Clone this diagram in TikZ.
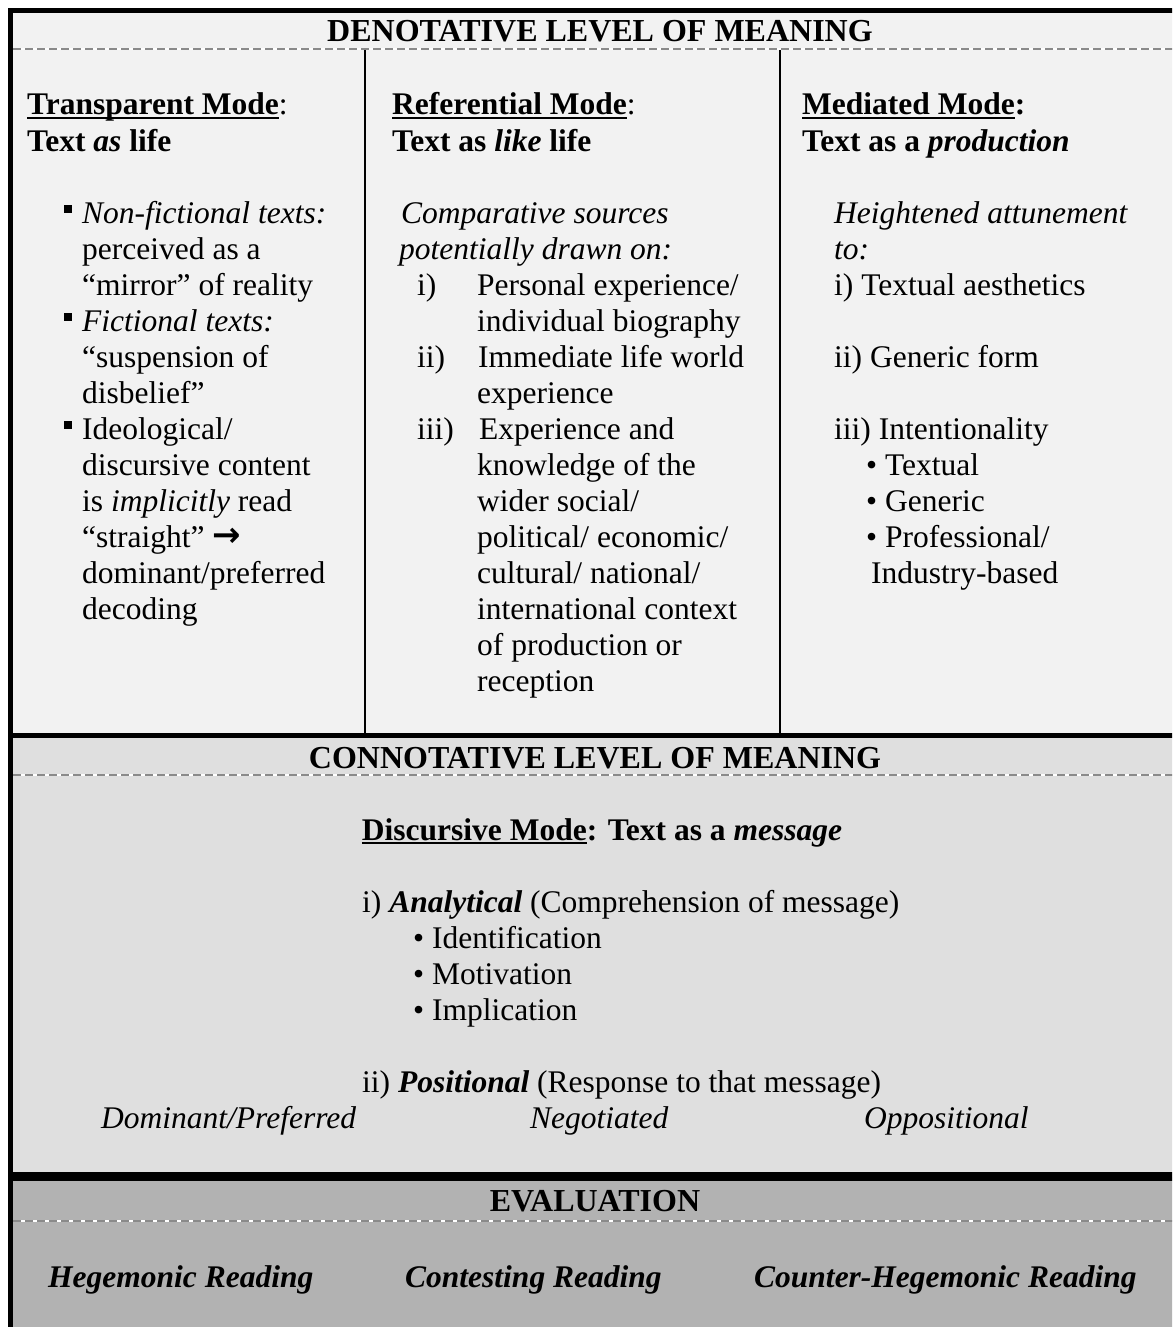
\documentclass[tikz,border=0pt]{standalone}
\usepackage{fontspec}
\setmainfont{Liberation Serif}
\newfontfamily\arrowfont{DejaVu Sans}
\definecolor{denfill}{HTML}{F2F2F2}
\definecolor{confill}{HTML}{DFDFDF}
\definecolor{evafill}{HTML}{B2B2B2}
\definecolor{dashgray}{HTML}{8A8A8A}
\newcommand\undl[1]{\setbox0=\hbox{#1}\rlap{\rule[-4pt]{\wd0}{2.4pt}}\box0}
\begin{document}
\begin{tikzpicture}[x=1pt,y=-1pt,
  txt/.style={anchor=base west, inner sep=0pt, font=\fontsize{31.5}{36}\selectfont},
  head/.style={anchor=base, inner sep=0pt, font=\fontsize{32}{36}\selectfont\bfseries},
  divline/.style={line width=2.5pt},
  thickline/.style={line width=5pt},
  sepwhite/.style={white, line width=1.2pt},
  sepdash/.style={dashgray, line width=1.2pt, dash pattern=on 8pt off 4pt},
  sqbullet/.style={fill=black}
]
\useasboundingbox (0,0) rectangle (1172,1327);
\begin{scope}
\clip (0,0) rectangle (1172,1327);
\fill[white] (0,0) rectangle (1172,1327);
% section fills
\fill[denfill] (10.5,10.5) rectangle (1180,735.5);
\fill[confill] (10.5,735.5) rectangle (1180,1176.5);
\fill[evafill] (10.5,1176.5) rectangle (1180,1340);
% dashed separators
\foreach \yy in {49,775,1221} {
  \draw[sepwhite] (13,\yy) -- (1180,\yy);
  \draw[sepdash] (13,\yy) -- (1180,\yy);
}
% column dividers
\draw[divline] (365,50) -- (365,734);
\draw[divline] (780,50) -- (780,734);
% borders
\draw[thickline] (10.5,1340) -- (10.5,10.5) -- (1180,10.5);
\draw[thickline] (8,735.5) -- (1180,735.5);
\draw[line width=9pt] (8,1176.5) -- (1180,1176.5);
\end{scope}

% ---------- headers ----------
\node[head] (hden) at (600,42) {DENOTATIVE LEVEL OF MEANING};
\node[head] (hcon) at (595,768) {CONNOTATIVE LEVEL OF MEANING};
\node[head] (heva) at (595,1211) {EVALUATION};

% ---------- column 1 ----------
\node[txt] (t1a) at (27,115) {\bfseries\undl{Transparent Mode}\mdseries:};
\node[txt] (t1b) at (27,151) {\bfseries Text \textit{as} life};
\foreach \yy in {223,331,439} \fill[sqbullet] (64,\yy-18) rectangle (72,\yy-10);
\node[txt] (c1l1) at (82,223) {\textit{Non-fictional texts:}};
\node[txt] (c1l2) at (82,259) {perceived as a};
\node[txt] (c1l3) at (82,295) {“mirror” of reality};
\node[txt] (c1l4) at (82,331) {\textit{Fictional texts:}};
\node[txt] (c1l5) at (82,367) {“suspension of};
\node[txt] (c1l6) at (82,403) {disbelief”};
\node[txt] (c1l7) at (82,439) {Ideological/};
\node[txt] (c1l8) at (82,475) {discursive content};
\node[txt] (c1l9) at (82,511) {is \textit{implicitly} read};
\node[txt] (c1l10) at (82,547) {“straight” {\arrowfont\fontsize{34}{36}\selectfont\raisebox{1pt}{\textbf{→}}}};
\node[txt] (c1l11) at (82,583) {dominant/preferred};
\node[txt] (c1l12) at (82,619) {decoding};

% ---------- column 2 ----------
\node[txt] (t2a) at (392,115) {\bfseries\undl{Referential Mode}\mdseries:};
\node[txt] (t2b) at (392,151) {\bfseries Text as \textit{like} life};
\node[txt] (c2l1) at (401,223) {\textit{Comparative sources}};
\node[txt] (c2l2) at (399,259) {\textit{potentially drawn on:}};
\node[txt] (c2i) at (417,295) {i)};
\node[txt] (c2ii) at (417,367) {ii)};
\node[txt] (c2iii) at (417,439) {iii)};
\node[txt] (c2l3) at (477,295) {Personal experience/};
\node[txt] (c2l4) at (477,331) {individual biography};
\node[txt] (c2l5) at (478,367) {Immediate life world};
\node[txt] (c2l6) at (477,403) {experience};
\node[txt] (c2l7) at (479,439) {Experience and};
\node[txt] (c2l8) at (477,475) {knowledge of the};
\node[txt] (c2l9) at (477,511) {wider social/};
\node[txt] (c2l10) at (477,547) {political/ economic/};
\node[txt] (c2l11) at (477,583) {cultural/ national/};
\node[txt] (c2l12) at (477,619) {international context};
\node[txt] (c2l13) at (477,655) {of production or};
\node[txt] (c2l14) at (477,691) {reception};

% ---------- column 3 ----------
\node[txt] (t3a) at (802,115) {\bfseries\undl{Mediated Mode}:};
\node[txt] (t3b) at (802,151) {\bfseries Text as a \textit{production}};
\node[txt] (c3l1) at (834,223) {\textit{Heightened attunement}};
\node[txt] (c3l2) at (834,259) {\textit{to:}};
\node[txt] (c3l3) at (834,295) {i) Textual aesthetics};
\node[txt] (c3l4) at (834,367) {ii) Generic form};
\node[txt] (c3l5) at (834,439) {iii) Intentionality};
\node[txt] (c3l6) at (866,475) {• Textual};
\node[txt] (c3l7) at (866,511) {• Generic};
\node[txt] (c3l8) at (866,547) {• Professional/};
\node[txt] (c3l9) at (871,583) {Industry-based};

% ---------- connotative ----------
\node[txt, anchor=base, font=\fontsize{31.5}{36}\selectfont\bfseries] (dmode) at (602,840) {\undl{Discursive Mode}: Text as a \textit{message}};
\node[txt] (an) at (362,912) {i) \textbf{\textit{Analytical}} (Comprehension of message)};
\node[txt] (an1) at (413,948) {• Identification};
\node[txt] (an2) at (413,984) {• Motivation};
\node[txt] (an3) at (413,1020) {• Implication};
\node[txt] (po) at (362,1092) {ii) \textbf{\textit{Positional}} (Response to that message)};
\node[txt] (po1) at (101,1128) {\textit{Dominant/Preferred}};
\node[txt] (po2) at (530,1128) {\textit{Negotiated}};
\node[txt] (po3) at (864,1128) {\textit{Oppositional}};

% ---------- evaluation ----------
\node[txt] (ev1) at (48,1287) {\bfseries\itshape Hegemonic Reading};
\node[txt] (ev2) at (405,1287) {\bfseries\itshape Contesting Reading};
\node[txt] (ev3) at (754,1287) {\bfseries\itshape Counter-Hegemonic Reading};
\end{tikzpicture}
\end{document}
